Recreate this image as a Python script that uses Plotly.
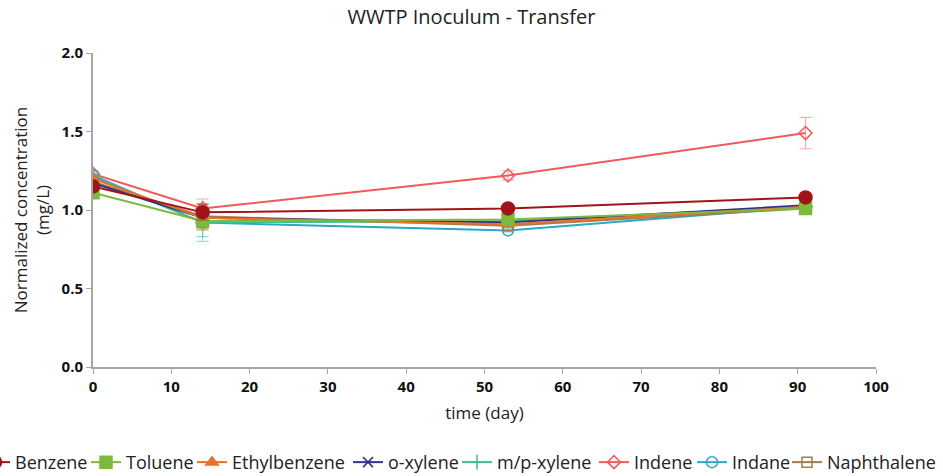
import plotly.graph_objects as go

days = [0, 14, 53, 91]
names = ["Benzene", "Toluene", "Ethylbenzene", "o-xylene", "m/p-xylene", "Indene", "Indane", "Naphthalene"]
benzene = [1.15, 0.985, 1.01, 1.08]
toluene = [1.11, 0.93, 0.94, 1.01]
ethylbenzene = [1.20, 0.95, 0.91, 1.02]
o_xylene = [1.17, 0.95, 0.92, 1.03]
mp_xylene = [1.21, 0.92, 0.93, 1.02]
indene = [1.23, 1.01, 1.22, 1.49]
indane = [1.22, 0.92, 0.87, 1.02]
naphthalene = [1.18, 0.96, 0.90, 1.01]
err_benzene = [0.02, 0.05, 0.01, 0.01]
err_toluene = [0.02, 0.06, 0.01, 0.01]
err_ethylbenzene = [0.02, 0.07, 0.01, 0.01]
err_o_xylene = [0.02, 0.06, 0.01, 0.01]
err_mp_xylene = [0.02, 0.12, 0.01, 0.01]
err_indene = [0.02, 0.06, 0.03, 0.10]
err_indane = [0.02, 0.09, 0.01, 0.01]
err_naphthalene = [0.02, 0.08, 0.01, 0.01]

series = [benzene, toluene, ethylbenzene, o_xylene, mp_xylene, indene, indane, naphthalene]
errors = [err_benzene, err_toluene, err_ethylbenzene, err_o_xylene, err_mp_xylene, err_indene, err_indane, err_naphthalene]
colors = ["#A01419", "#7DB93C", "#E8702A", "#2E3192", "#3CBF8E", "#F25A5A", "#2CA7C6", "#A57C4E"]
err_colors = ["rgba(160,20,25,0.5)", "rgba(125,185,60,0.5)", "rgba(232,112,42,0.5)", "rgba(46,49,146,0.5)",
              "rgba(60,191,142,0.5)", "rgba(242,90,90,0.5)", "rgba(44,167,198,0.5)", "rgba(165,124,78,0.5)"]
symbols = ["circle", "square", "triangle-up", "x-thin", "cross-thin", "diamond-open", "circle-open", "square-open"]
sizes = [13, 12, 11, 10, 11, 10, 11, 10]
legend_text_px = [16, 127, 233, 389, 498, 635, 733, 828]

L, R, T, B = 93, 67, 53, 109
W, H = 943, 476
pw = W - L - R

fig = go.Figure()
order = [5, 6, 7, 4, 3, 2, 1, 0]
for i in order:
    fig.add_trace(go.Scatter(
        x=days, y=series[i], name=names[i], mode="lines+markers",
        line=dict(color=colors[i], width=2),
        marker=dict(symbol=symbols[i], size=sizes[i], color=colors[i],
                    line=dict(color=colors[i], width=1.5)),
        error_y=dict(type="data", array=errors[i], color=err_colors[i], thickness=1.2, width=6),
        legend="legend" if i == 0 else "legend%d" % (i + 1),
    ))

legends = {}
for i in range(len(names)):
    key = "legend" if i == 0 else "legend%d" % (i + 1)
    legends[key] = dict(orientation="h", x=(legend_text_px[i] - 41 - L) / pw, xanchor="left",
                        y=-0.245, yanchor="top", font=dict(size=18, color="#222"),
                        itemwidth=30, bgcolor="rgba(0,0,0,0)")

fig.update_layout(
    width=W, height=H,
    margin=dict(l=L, r=R, t=T, b=B, autoexpand=False),
    paper_bgcolor="white", plot_bgcolor="white",
    font=dict(family="Open Sans, sans-serif", color="#222"),
    title=dict(text="WWTP Inoculum - Transfer", x=0.5, xanchor="center", y=0.965, yanchor="middle",
               font=dict(size=20, color="#222")),
    xaxis=dict(range=[0, 100], dtick=10, showline=True, linecolor="#A6A6A6", linewidth=2,
               ticks="outside", tickcolor="#A6A6A6", ticklen=5, showgrid=False, zeroline=False,
               tickfont=dict(size=15, family="Open Sans, sans-serif", weight="bold", color="#111"),
               title=dict(text="time (day)", font=dict(size=17), standoff=12)),
    yaxis=dict(range=[0, 2.0], dtick=0.5, tickformat=".1f", showline=True, linecolor="#A6A6A6", linewidth=2,
               ticks="outside", tickcolor="#A6A6A6", ticklen=5, showgrid=False, zeroline=False,
               tickfont=dict(size=15, family="Open Sans, sans-serif", weight="bold", color="#111"),
               title=dict(text="Normalized concentration<br>(mg/L)", font=dict(size=17), standoff=8)),
    showlegend=True,
    **legends,
)
fig.write_html("out.html")
